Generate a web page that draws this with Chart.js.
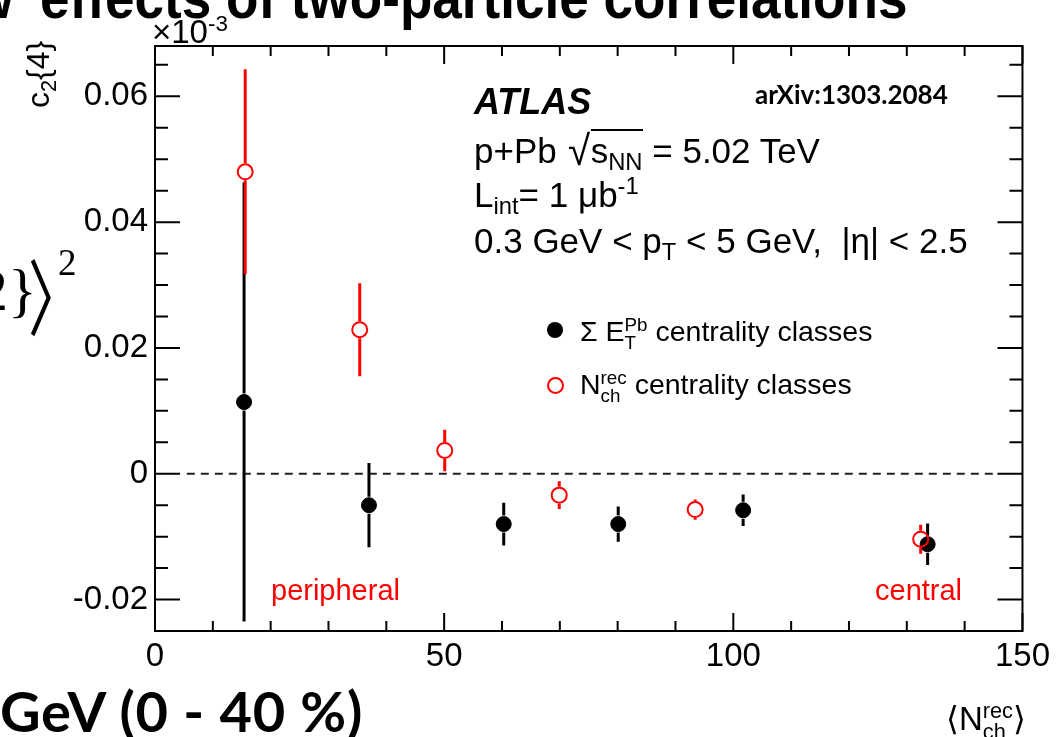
<!DOCTYPE html>
<html>
<head>
<meta charset="utf-8">
<script src="https://cdn.jsdelivr.net/npm/chart.js@4.4.1/dist/chart.umd.min.js"></script>
<style>
html, body { margin: 0; padding: 0; background: #fff; }
body { width: 1056px; height: 737px; position: relative; overflow: hidden; font-family: "Liberation Sans", Arial, sans-serif; }
#chart { position: absolute; left: 0; top: 0; }
.t { position: absolute; white-space: nowrap; line-height: 1; color: #000; }
.sb { font-size: 0.68em; position: relative; top: 0.3em; }
.sp { font-size: 0.68em; position: relative; top: -0.55em; }
.st { display: inline-block; font-size: 0.66em; line-height: 0.95; vertical-align: -0.42em; }
.st span { display: block; }
.rad { display: inline-block; line-height: 0; transform: scale(1.15, 1.2); transform-origin: left bottom; margin: 0 3px 0 2px; }
.red { color: #ff0000; }
</style>
</head>
<body>
<canvas id="chart" width="1056" height="737"></canvas>

<!-- slide fragments around the plot -->
<div class="t" style="right:1042px;top:-32px;font-weight:bold;font-size:60px;transform:scaleX(0.88);transform-origin:right top;">Non-flow</div>
<div class="t" style="left:40px;top:-32px;font-weight:bold;font-size:60px;transform:scaleX(0.885);transform-origin:left top;">effects of two-particle correlations</div>
<div class="t" style="left:-22px;top:260px;font-family:'Liberation Serif';font-size:60px;">2}</div>
<div class="t" style="left:28px;top:252px;font-family:'Noto Sans CJK SC';font-size:74px;transform:scale(0.75,1.12);transform-origin:left top;">〉</div>
<div class="t" style="left:58px;top:244px;font-family:'Liberation Serif';font-size:37px;">2</div>
<div class="t" style="left:0px;top:683px;font-family:Lato;font-weight:bold;font-size:56px;letter-spacing:0.8px;">GeV (0 - 40 %)</div>

<!-- plot texts -->
<div class="t" style="left:152px;top:15px;font-size:33px;">×10<span class="sp">-3</span></div>
<div class="t" style="left:22px;top:108px;font-size:32px;transform:rotate(-90deg);transform-origin:left top;">c<span class="sb">2</span>{4}</div>
<div class="t" style="right:30px;top:701px;font-size:33px;">⟨N<span class="st"><span>rec</span><span>ch</span></span>⟩</div>

<div class="t" style="left:474px;top:84px;font-size:36px;font-weight:bold;font-style:italic;">ATLAS</div>
<div class="t" style="left:755px;top:81px;font-family:Lato;font-weight:bold;font-size:26px;">arXiv:1303.2084</div>
<div class="t" style="left:474px;top:133px;font-size:35px;">p+Pb <span class="rad">√</span><span style="border-top:2px solid #000;">s<span class="sb">NN</span></span> = 5.02 TeV</div>
<div class="t" style="left:474px;top:177px;font-size:35px;">L<span class="sb">int</span>= 1 μb<span class="sp">-1</span></div>
<div class="t" style="left:474px;top:223px;font-size:35px;">0.3 GeV &lt; p<span class="sb">T</span> &lt; 5 GeV,&nbsp; |η| &lt; 2.5</div>

<div class="t" style="left:547px;top:322px;width:16px;height:16px;border-radius:50%;background:#000;"></div>
<div class="t" style="left:580px;top:316px;font-size:28.5px;">Σ E<span class="st"><span>Pb</span><span>T</span></span> centrality classes</div>
<div class="t" style="left:547px;top:377px;width:13px;height:13px;border-radius:50%;border:2px solid #ff0000;"></div>
<div class="t" style="left:580px;top:369px;font-size:28.5px;">N<span class="st"><span>rec</span><span>ch</span></span> centrality classes</div>

<div class="t red" style="left:271px;top:576px;font-size:29px;">peripheral</div>
<div class="t red" style="left:875px;top:576px;font-size:29px;">central</div>

<script>
// <N_ch^rec> and c2{4} (x10^-3) per centrality class
const nchSumEt = [15.4, 37.0, 60.3, 80.1, 101.7, 133.6];
const c24SumEt = [0.0114, -0.0050, -0.0080, -0.0080, -0.0058, -0.0112];
const errSumEt = [0.0349, 0.0067, 0.0034, 0.0028, 0.0025, 0.0033];

const nchNch = [15.6, 35.4, 50.1, 69.9, 93.4, 132.4];
const c24Nch = [0.0480, 0.0229, 0.0037, -0.0034, -0.0057, -0.0104];
const errNch = [0.0163, 0.0074, 0.0033, 0.0022, 0.0016, 0.0023];

const xTickVals = [0, 50, 100, 150];
const yTickVals = [-0.02, 0, 0.02, 0.04, 0.06];
const zeroLine = [{x: 5.5, y: 0}, {x: 145.5, y: 0}];

const toPoints = (xs, ys) => xs.map((v, i) => ({x: v, y: ys[i]}));

Chart.defaults.font.family = "'Liberation Sans', Arial, sans-serif";
Chart.defaults.color = "#000";

// error bars, drawn just before each dataset's markers, skipping the marker itself
const errorBars = {
    id: "errorBars",
    beforeDatasetDraw(chart, args) {
        const ds = chart.data.datasets[args.index];
        if (!ds.errors) return;
        const {ctx, scales: {x, y}} = chart;
        const r = ds.pointRadius + 1;
        ctx.save();
        ctx.strokeStyle = ds.borderColor;
        ctx.lineWidth = 3;
        ctx.beginPath();
        ds.data.forEach((p, i) => {
            const px = x.getPixelForValue(p.x);
            const yc = y.getPixelForValue(p.y);
            const yt = y.getPixelForValue(p.y + ds.errors[i]);
            const yb = y.getPixelForValue(p.y - ds.errors[i]);
            ctx.moveTo(px, yt);
            ctx.lineTo(px, yc - r);
            ctx.moveTo(px, yc + r);
            ctx.lineTo(px, yb);
        });
        ctx.stroke();
        ctx.restore();
    }
};

// ROOT style frame with inner ticks on all four sides
const frameTicks = {
    id: "frameTicks",
    afterDraw(chart) {
        const {ctx, chartArea: a, scales: {x, y}} = chart;
        ctx.save();
        ctx.strokeStyle = "#000";
        ctx.lineWidth = 2;
        ctx.strokeRect(a.left, a.top, a.right - a.left, a.bottom - a.top);
        ctx.beginPath();
        for (let v = x.min; v <= x.max + 1e-9; v += 10) {
            const px = x.getPixelForValue(v);
            const len = v % 50 === 0 ? 18 : 10;
            ctx.moveTo(px, a.bottom);
            ctx.lineTo(px, a.bottom - len);
            ctx.moveTo(px, a.top);
            ctx.lineTo(px, a.top + len);
        }
        for (let i = Math.ceil(y.min / 0.005 - 1e-6); i * 0.005 <= y.max + 1e-9; i++) {
            const py = y.getPixelForValue(i * 0.005);
            const len = i % 4 === 0 ? 25 : 13;
            ctx.moveTo(a.left, py);
            ctx.lineTo(a.left + len, py);
            ctx.moveTo(a.right, py);
            ctx.lineTo(a.right - len, py);
        }
        ctx.stroke();
        ctx.restore();
    }
};

new Chart(document.getElementById("chart"), {
    type: "scatter",
    data: {
        datasets: [
            {
                label: "Nch rec centrality classes",
                data: toPoints(nchNch, c24Nch),
                errors: errNch,
                borderColor: "#ff0000",
                backgroundColor: "rgba(0,0,0,0)",
                pointRadius: 7.5,
                pointBorderWidth: 2,
                order: 0,
            },
            {
                label: "Sum ET Pb centrality classes",
                data: toPoints(nchSumEt, c24SumEt),
                errors: errSumEt,
                borderColor: "#000",
                backgroundColor: "#000",
                pointRadius: 7.5,
                pointBorderWidth: 1,
                order: 1,
            },
            {
                type: "line",
                data: zeroLine,
                borderColor: "#222",
                borderWidth: 1.8,
                borderDash: [8, 6],
                pointRadius: 0,
                order: 2,
            },
        ],
    },
    options: {
        responsive: false,
        animation: false,
        layout: { padding: { top: 46, right: 31, left: 0, bottom: 0 } },
        plugins: { legend: { display: false }, tooltip: { enabled: false } },
        scales: {
            x: {
                type: "linear",
                min: 0,
                max: 150,
                grid: { display: false, drawTicks: false },
                border: { display: false },
                afterBuildTicks: (s) => { s.ticks = xTickVals.map((v) => ({ value: v })); },
                afterFit: (s) => { s.height = 106; },
                ticks: { font: { size: 33 }, padding: 6, maxRotation: 0, autoSkip: false },
            },
            y: {
                type: "linear",
                min: -0.025,
                max: 0.068,
                grid: { display: false, drawTicks: false },
                border: { display: false },
                afterBuildTicks: (s) => { s.ticks = yTickVals.map((v) => ({ value: v })); },
                afterFit: (s) => { s.width = 155; },
                ticks: {
                    font: { size: 33 },
                    padding: 7,
                    callback: (v) => (v === 0 ? "0" : v.toFixed(2)),
                },
            },
        },
    },
    plugins: [errorBars, frameTicks],
});
</script>
</body>
</html>
